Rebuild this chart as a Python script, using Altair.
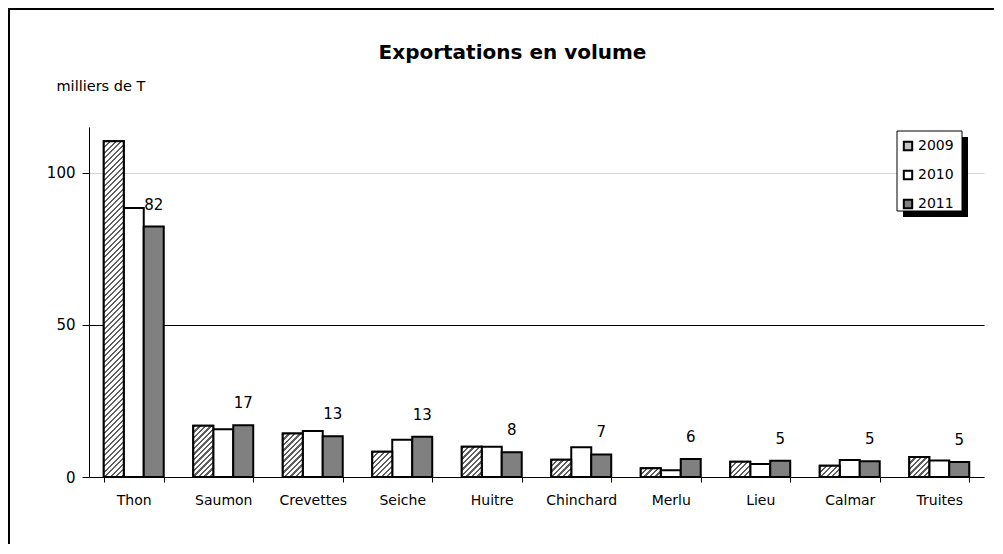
import altair as alt
import pandas as pd

# ---- data ----
categories = ["Thon", "Saumon", "Crevettes", "Seiche", "Huitre",
              "Chinchard", "Merlu", "Lieu", "Calmar", "Truites"]
years = ["2009", "2010", "2011"]
v2009 = [110.3, 16.8, 14.3, 8.3, 9.9, 5.7, 2.9, 5.0, 3.7, 6.6]
v2010 = [88.4, 15.7, 15.1, 12.2, 9.9, 9.8, 2.2, 4.3, 5.6, 5.4]
v2011 = [82.3, 17.0, 13.4, 13.2, 8.1, 7.4, 5.9, 5.3, 5.2, 4.9]
y_ticks = [0, 50, 100]

rows = []
for i, c in enumerate(categories):
    for yr, vals in zip(years, [v2009, v2010, v2011]):
        rows.append({"cat": c, "year": yr, "value": vals[i]})
df = pd.DataFrame(rows)

# ---- layout ----
W, H, YMAX = 895, 350, 115
P_IN, P_OUT = 0.33, 0.165
FONT = "DejaVu Sans"
bar_w = W / len(categories) * (1 - P_IN) / 3


def hatch(h, w, period=5.5, line=2.4, dark="#606060", light="#ffffff"):
    """Diagonal '/' hatching built as a striped linear gradient."""
    L = w + h
    s = L / (w * w + h * h)
    stops = []
    pos = 0.0
    while pos < L:
        a = pos / L
        b = min((pos + line) / L, 1.0)
        c = min((pos + period) / L, 1.0)
        stops += [(a, dark), (b, dark), (b, light), (c, light)]
        pos += period
    return {"gradient": "linear", "x1": 0, "y1": 0, "x2": s * w, "y2": s * h,
            "stops": [{"offset": o, "color": col} for o, col in stops]}


grid_color = {"condition": {"test": "datum.value === 50", "value": "#000000"},
              "value": "#d4d4d4"}

x_enc = alt.X("cat:N", sort=categories,
              scale=alt.Scale(paddingInner=P_IN, paddingOuter=P_OUT),
              axis=alt.Axis(title=None, labelAngle=0, tickBand="extent",
                            tickSize=5, labelPadding=11, labelFontSize=14,
                            labelFont=FONT, labelColor="black",
                            domainColor="black", tickColor="black", grid=False))
xo_enc = alt.XOffset("year:N", scale=alt.Scale(domain=years))
y_enc = alt.Y("value:Q", scale=alt.Scale(domain=[0, YMAX], nice=False),
              axis=alt.Axis(values=y_ticks, title="milliers de T", titleAngle=0,
                            titleX=-33, titleY=-37, titleAlign="left",
                            titleBaseline="alphabetic", titleFont=FONT,
                            titleFontSize=14.5, titleFontWeight="normal",
                            titleColor="black", tickSize=7, labelPadding=7,
                            labelFontSize=15, labelFont=FONT, labelColor="black",
                            domainColor="black", tickColor="black",
                            grid=True, gridColor=grid_color))

base = alt.Chart(df)

bars = base.mark_bar(stroke="black", strokeWidth=2).encode(
    x=x_enc, xOffset=xo_enc, y=y_enc,
    color=alt.Color("year:N",
                    scale=alt.Scale(domain=years, range=["#c4c4c4", "#ffffff", "#808080"]),
                    legend=alt.Legend(title=None, orient="none", legendX=812, legendY=12,
                                      padding=0, rowPadding=11, labelFontSize=14,
                                      labelFont=FONT, labelColor="black", labelOffset=3,
                                      symbolType="square", symbolSize=70,
                                      symbolStrokeColor="black", symbolStrokeWidth=2)),
)

hatch_layers = []
for i, c in enumerate(categories):
    h = v2009[i] * H / YMAX
    hatch_layers.append(
        base.mark_bar(fill=hatch(h, bar_w), stroke="black", strokeWidth=2).encode(
            x=x_enc, xOffset=xo_enc, y=y_enc
        ).transform_filter((alt.datum.cat == c) & (alt.datum.year == "2009"))
    )

labels = base.mark_text(dy=-17, baseline="alphabetic", align="center",
                        fontSize=15, font=FONT, color="black").encode(
    x=x_enc, xOffset=xo_enc, y=y_enc,
    text=alt.Text("value:Q", format=".0f"),
).transform_filter(alt.datum.year == "2011")

# decorations: outer frame, legend box and its drop shadow
one = pd.DataFrame({"k": [0]})
frame = alt.Chart(one).mark_rect(filled=False, stroke="black", strokeWidth=2).encode(
    x=alt.value(-80), x2=alt.value(1200), y=alt.value(-118), y2=alt.value(800))
shadow = alt.Chart(one).mark_rect(fill="black").encode(
    x=alt.value(814), x2=alt.value(879), y=alt.value(10), y2=alt.value(90))
legend_box = alt.Chart(one).mark_rect(fill="white", stroke="black", strokeWidth=1).encode(
    x=alt.value(808), x2=alt.value(873), y=alt.value(4), y2=alt.value(84))

chart = alt.layer(frame, shadow, legend_box, bars, *hatch_layers, labels).properties(
    width=W, height=H,
    background="white",
    autosize=alt.AutoSizeParams(type="none"),
    padding={"left": 81, "top": 119, "right": 10, "bottom": 67},
    title=alt.TitleParams("Exportations en volume", font=FONT, fontSize=20,
                          fontWeight="bold", color="black", anchor="middle",
                          baseline="alphabetic", dx=-24, dy=85, offset=14),
).configure_view(stroke="transparent", strokeWidth=0)

chart.save("out.html", embed_options={"renderer": "svg", "actions": False})
